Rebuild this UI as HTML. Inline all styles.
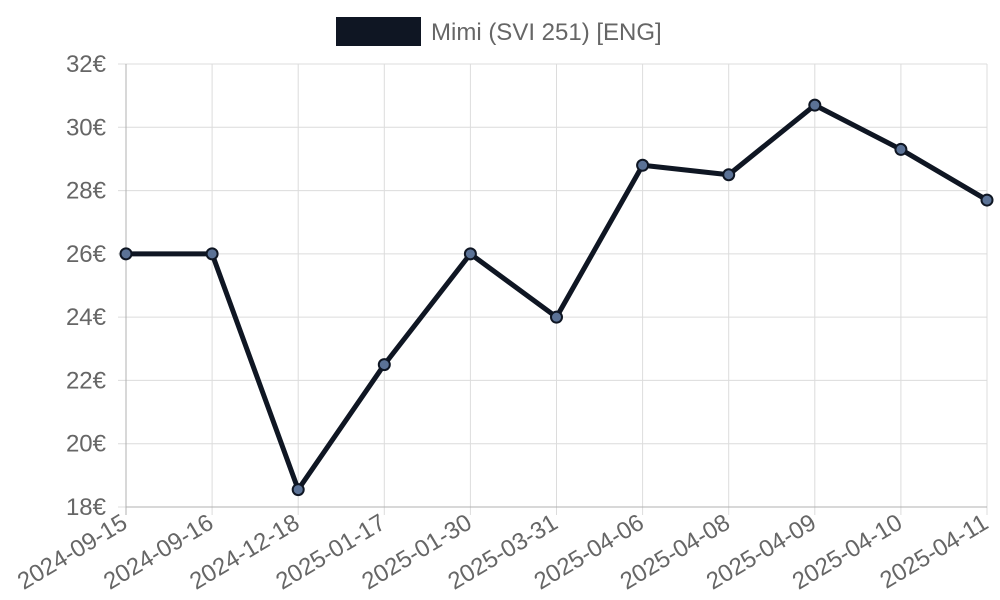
<!DOCTYPE html>
<html><head><meta charset="utf-8"><style>
body{margin:0;background:#fff;}
svg{display:block;font-family:"Liberation Sans",sans-serif;}
</style></head><body>
<svg id="chart" width="1000" height="600"></svg>
<script>
const categories=["2024-09-15","2024-09-16","2024-12-18","2025-01-17","2025-01-30","2025-03-31","2025-04-06","2025-04-08","2025-04-09","2025-04-10","2025-04-11"];
const prices=[26,26,18.55,22.5,26,24,28.8,28.5,30.7,29.3,27.7];
const yTicks=[18,20,22,24,26,28,30,32];
const seriesLabel="Mimi (SVI 251) [ENG]";
const NS="http://www.w3.org/2000/svg";
const svg=document.getElementById('chart');
const L=126,R=987,T=64,B=507,yMin=18,yMax=32;
const xs=i=>L+(R-L)*i/(categories.length-1);
const ys=v=>B-(v-yMin)/(yMax-yMin)*(B-T);
function mk(tag,attrs,parent){const e=document.createElementNS(NS,tag);for(const k in attrs)e.setAttribute(k,attrs[k]);(parent||svg).appendChild(e);return e;}
const grid=mk('g',{});


yTicks.forEach(t=>{
  const y=ys(t);
  mk('line',{x1:L-8,x2:R,y1:y,y2:y,stroke:'#dcdcdc','stroke-width':1},grid);
  const tx=mk('text',{x:106,y:y+8,'text-anchor':'end','font-size':24,fill:'#666'});
  tx.textContent=t+'€';
  
  
});
categories.forEach((c,i)=>{
  const x=xs(i);
  mk('line',{x1:x,x2:x,y1:T,y2:B+8,stroke:i==0?'#b0b0b0':'#dcdcdc','stroke-width':1},grid);
  const tx=mk('text',{x:x+3,y:B+20,'text-anchor':'end','font-size':24,fill:'#666',transform:`rotate(-31 ${x+3} ${B+20})`});
  tx.textContent=c;
  
  
});
mk('line',{x1:L,x2:R,y1:B,y2:B,stroke:'#b0b0b0','stroke-width':1},grid);
const line=mk('polyline',{points:prices.map((v,i)=>xs(i)+','+ys(v)).join(' '),fill:'none',stroke:'#0f1623','stroke-width':5,'stroke-linejoin':'round'});


prices.forEach((v,i)=>{
  const p=mk('circle',{cx:xs(i),cy:ys(v),r:5.5,fill:'#5b7296',stroke:'#0f1623','stroke-width':2});
  
  
});
const lg=mk('g',{});


mk('rect',{x:336,y:17,width:85,height:29,fill:'#0f1623'},lg);
const lt=mk('text',{x:431,y:40,'font-size':24,fill:'#666'},lg);
lt.textContent=seriesLabel;
</script>
</body></html>
